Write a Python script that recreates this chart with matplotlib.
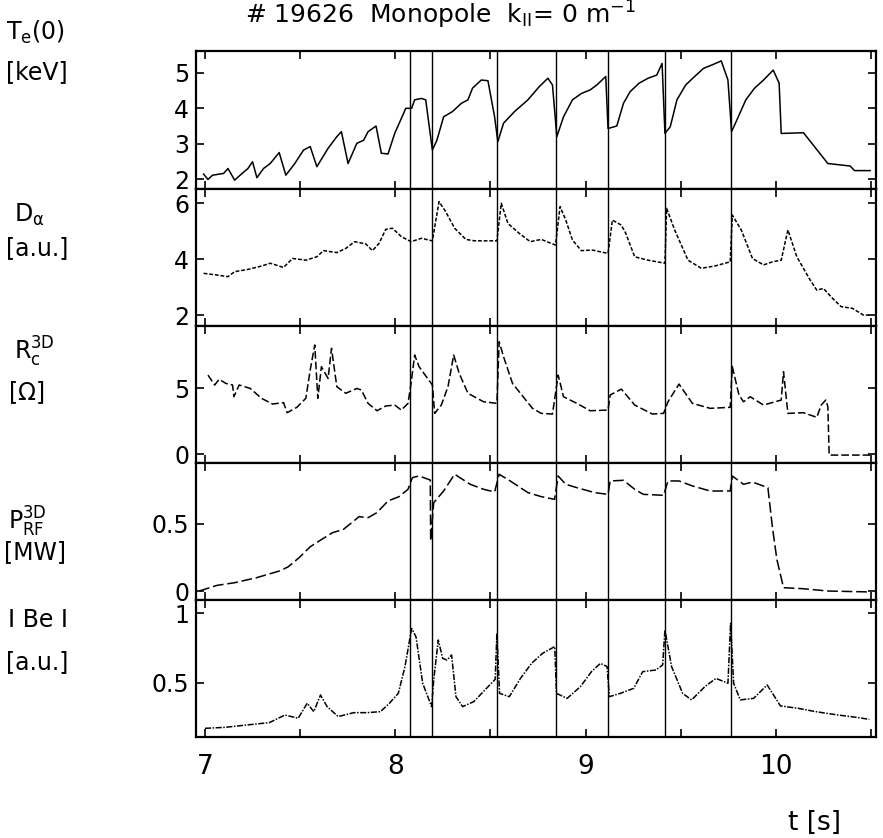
import numpy as np
import matplotlib.pyplot as plt

plt.rcParams['font.family'] = ['DejaVu Sans']
plt.rcParams['mathtext.default'] = 'regular'

# T_e(0) [keV]
t_te = [6.993, 7.016, 7.040, 7.098, 7.121, 7.156, 7.191, 7.226, 7.250, 7.273, 7.308, 7.343, 7.390, 7.425,
        7.472, 7.518, 7.553, 7.588, 7.647, 7.693, 7.717, 7.752, 7.798, 7.834, 7.857, 7.899, 7.927, 7.962,
        7.997, 8.044, 8.055, 8.086, 8.102, 8.137, 8.160, 8.195, 8.219, 8.254, 8.301, 8.347, 8.382, 8.406,
        8.452, 8.487, 8.522, 8.539, 8.569, 8.627, 8.697, 8.756, 8.802, 8.826, 8.849, 8.884, 8.931, 8.978,
        9.024, 9.059, 9.106, 9.118, 9.164, 9.199, 9.234, 9.281, 9.328, 9.374, 9.402, 9.417, 9.445, 9.480,
        9.526, 9.573, 9.620, 9.666, 9.713, 9.748, 9.767, 9.795, 9.842, 9.888, 9.935, 9.986, 10.017, 10.028,
        10.145, 10.273, 10.390, 10.413, 10.495]
te = [2.14, 1.99, 2.11, 2.16, 2.30, 1.97, 2.14, 2.30, 2.49, 2.04, 2.30, 2.44, 2.75, 2.11,
      2.44, 2.82, 2.92, 2.35, 2.87, 3.20, 3.34, 2.44, 3.01, 3.10, 3.34, 3.50, 2.73, 2.71,
      3.29, 3.86, 4.00, 4.00, 4.24, 4.28, 4.24, 2.82, 3.10, 3.76, 3.91, 4.14, 4.24, 4.57,
      4.80, 4.78, 3.76, 3.06, 3.58, 3.91, 4.24, 4.61, 4.85, 4.66, 3.20, 3.76, 4.24, 4.42,
      4.52, 4.66, 4.90, 3.43, 3.50, 4.14, 4.47, 4.71, 4.85, 4.94, 5.27, 3.29, 3.48, 4.24,
      4.66, 4.90, 5.13, 5.23, 5.34, 4.80, 3.34, 3.67, 4.24, 4.57, 4.80, 5.08, 4.71, 3.29,
      3.31, 2.44, 2.37, 2.24, 2.24]

# D_alpha [a.u.]
t_da = [6.993, 7.063, 7.121, 7.156, 7.226, 7.297, 7.343, 7.413, 7.460, 7.530, 7.588, 7.623, 7.693, 7.740,
        7.787, 7.845, 7.880, 7.915, 7.950, 7.985, 8.032, 8.083, 8.137, 8.195, 8.230, 8.265, 8.312, 8.371,
        8.417, 8.534, 8.557, 8.592, 8.651, 8.709, 8.767, 8.842, 8.866, 8.896, 8.931, 8.978, 9.036, 9.118,
        9.141, 9.188, 9.211, 9.258, 9.328, 9.417, 9.426, 9.468, 9.538, 9.608, 9.678, 9.760, 9.771, 9.818,
        9.877, 9.935, 9.982, 10.028, 10.063, 10.110, 10.180, 10.215, 10.250, 10.297, 10.343, 10.402,
        10.460, 10.495]
da = [3.49, 3.43, 3.37, 3.55, 3.63, 3.75, 3.85, 3.70, 4.02, 3.96, 4.08, 4.30, 4.23, 4.38,
      4.62, 4.54, 4.30, 4.56, 5.06, 5.10, 4.80, 4.62, 4.74, 4.65, 6.05, 5.69, 5.10, 4.70,
      4.65, 4.65, 5.99, 5.27, 4.92, 4.62, 4.70, 4.50, 5.87, 5.39, 4.68, 4.30, 4.32, 4.20,
      5.39, 5.21, 4.92, 4.08, 3.96, 3.85, 5.81, 5.04, 3.96, 3.67, 3.75, 3.90, 5.57, 5.04,
      4.02, 3.79, 3.90, 3.96, 5.04, 4.08, 3.25, 2.89, 2.95, 2.60, 2.30, 2.24,
      2.00, 2.00]

# R_c^3D [Ohm]
t_rc = [7.016, 7.051, 7.075, 7.110, 7.145, 7.152, 7.180, 7.238, 7.297, 7.355, 7.413, 7.432, 7.483, 7.530,
        7.553, 7.577, 7.593, 7.612, 7.647, 7.665, 7.693, 7.740, 7.798, 7.822, 7.857, 7.904, 7.950, 7.997,
        8.032, 8.067, 8.083, 8.102, 8.125, 8.195, 8.207, 8.242, 8.277, 8.307, 8.336, 8.382, 8.464, 8.534,
        8.546, 8.569, 8.616, 8.721, 8.767, 8.826, 8.856, 8.884, 8.954, 9.024, 9.118, 9.129, 9.188, 9.258,
        9.351, 9.410, 9.433, 9.491, 9.561, 9.655, 9.760, 9.771, 9.806, 9.830, 9.865, 9.935, 10.028,
        10.040, 10.063, 10.145, 10.215, 10.238, 10.262, 10.273, 10.280, 10.495]
rc = [5.98, 5.23, 5.66, 5.35, 5.23, 4.34, 5.23, 4.97, 4.22, 3.79, 3.89, 3.13, 3.54, 4.22,
      6.36, 8.26, 4.22, 6.62, 5.73, 8.01, 5.10, 4.60, 4.97, 4.85, 3.84, 3.28, 3.64, 3.71,
      3.33, 3.84, 5.35, 7.50, 6.62, 5.23, 3.08, 3.71, 5.10, 7.50, 6.11, 4.60, 3.96, 3.84,
      8.51, 7.37, 5.35, 3.46, 3.08, 3.03, 5.98, 4.34, 3.84, 3.28, 3.33, 4.47, 4.92, 3.71,
      3.03, 3.08, 3.96, 5.30, 3.84, 3.46, 3.54, 6.62, 4.47, 3.96, 4.34, 3.71, 4.09,
      6.24, 3.08, 3.13, 2.78, 3.71, 4.09, 3.59, -0.08, -0.08]

# P_RF^3D [MW]
t_rf = [6.970, 7.063, 7.156, 7.273, 7.390, 7.437, 7.495, 7.553, 7.600, 7.670, 7.728, 7.810, 7.857, 7.904,
        7.962, 8.020, 8.067, 8.090, 8.125, 8.184, 8.186, 8.202, 8.254, 8.312, 8.394, 8.464, 8.522, 8.546,
        8.604, 8.697, 8.767, 8.837, 8.856, 8.896, 8.954, 9.048, 9.118, 9.129, 9.199, 9.258, 9.304, 9.410,
        9.433, 9.491, 9.561, 9.655, 9.760, 9.771, 9.830, 9.877, 9.958, 9.981, 10.005, 10.040, 10.145,
        10.273, 10.495]
rf = [0.00, 0.042, 0.062, 0.10, 0.149, 0.18, 0.249, 0.33, 0.373, 0.435, 0.46, 0.555, 0.547, 0.585,
      0.672, 0.704, 0.759, 0.846, 0.858, 0.828, 0.373, 0.659, 0.746, 0.871, 0.796, 0.759, 0.739, 0.871,
      0.821, 0.734, 0.704, 0.684, 0.858, 0.796, 0.771, 0.734, 0.721, 0.821, 0.826, 0.759, 0.721, 0.714,
      0.821, 0.821, 0.784, 0.746, 0.746, 0.858, 0.796, 0.813, 0.771, 0.485, 0.236, 0.025, 0.017,
      0.0, -0.007]

# I Be I [a.u.]
t_be = [7.000, 7.105, 7.222, 7.339, 7.420, 7.490, 7.537, 7.572, 7.607, 7.642, 7.700, 7.782, 7.852, 7.922,
        7.969, 8.016, 8.051, 8.086, 8.109, 8.144, 8.191, 8.202, 8.226, 8.249, 8.272, 8.296, 8.319, 8.354,
        8.413, 8.471, 8.525, 8.534, 8.548, 8.599, 8.658, 8.716, 8.774, 8.838, 8.847, 8.903, 8.973, 9.031,
        9.078, 9.113, 9.125, 9.183, 9.253, 9.300, 9.370, 9.405, 9.417, 9.452, 9.510, 9.557, 9.627, 9.685,
        9.748, 9.762, 9.778, 9.813, 9.883, 9.954, 10.024, 10.117, 10.210, 10.327, 10.420, 10.491]
be = [0.176, 0.183, 0.200, 0.217, 0.271, 0.248, 0.355, 0.295, 0.414, 0.331, 0.260, 0.288, 0.288, 0.295,
      0.355, 0.426, 0.617, 0.890, 0.830, 0.498, 0.331, 0.521, 0.807, 0.676, 0.664, 0.700, 0.402, 0.331,
      0.367, 0.450, 0.526, 0.855, 0.426, 0.402, 0.533, 0.640, 0.712, 0.760, 0.426, 0.390, 0.474, 0.581,
      0.640, 0.617, 0.402, 0.426, 0.462, 0.581, 0.593, 0.629, 0.879, 0.617, 0.426, 0.379, 0.474, 0.533,
      0.498, 0.926, 0.498, 0.379, 0.390, 0.486, 0.336, 0.319, 0.295, 0.271, 0.255, 0.240]

# disruption / sawtooth markers
t_marks = [8.079, 8.193, 8.532, 8.847, 9.120, 9.419, 9.764]

series = [(t_te, te), (t_da, da), (t_rc, rc), (t_rf, rf), (t_be, be)]
styles = ['-', (0, (2.5, 1.2)), (0, (5, 2)), (0, (7, 2.5)), (0, (4, 1, 1, 1))]
ylims = [(1.72, 5.62), (1.61, 6.5), (-0.68, 9.7), (-0.067, 0.955), (0.114, 1.093)]
yticks = [[2, 3, 4, 5], [2, 4, 6], [0, 5], [0, 0.5], [0.5, 1]]
yticklabels = [['2', '3', '4', '5'], ['2', '4', '6'], ['0', '5'], ['0', '0.5'], ['0.5', '1']]

W, H = 883, 838
edges = [51, 189, 326, 463, 600, 737]

fig = plt.figure(figsize=(W / 100, H / 100), dpi=100)
axes = []
for i in range(5):
    top, bot = edges[i], edges[i + 1]
    ax = fig.add_axes([196 / W, 1 - bot / H, 680 / W, (bot - top) / H])
    x, y = series[i]
    ax.plot(x, y, color='black', lw=1.1, linestyle=styles[i])
    for tm in t_marks:
        ax.axvline(tm, color='black', lw=1.0)
    ax.set_xlim(6.953, 10.526)
    ax.set_ylim(*ylims[i])
    ax.set_yticks(yticks[i])
    ax.set_yticklabels(yticklabels[i])
    ax.set_xticks(np.arange(7, 10.6, 0.5))
    ax.tick_params(direction='in', length=6, width=1.2, top=True, right=True,
                   labelsize=17, pad=5)
    for s in ax.spines.values():
        s.set_linewidth(1.6)
    if i < 4:
        ax.tick_params(labelbottom=False)
    axes.append(ax)

axes[-1].set_xticks(np.arange(7, 10.6, 0.5))
axes[-1].set_xticklabels(['7', '', '8', '', '9', '', '10', ''])
axes[-1].tick_params(axis='x', labelsize=19, pad=12)

fig.text(440 / W, 1 - 15 / H, r'# 19626  Monopole  k$_{\rm II}$= 0 m$^{-1}$',
         ha='center', va='center', fontsize=18)

labels = [
    (6, 32, r'T$_{\rm e}$(0)'), (6, 72, '[keV]'),
    (14, 215, r'D$_\alpha$'), (6, 248, '[a.u.]'),
    (14, 352, r'R$_{\rm c}^{\rm 3D}$'), (8, 393, r'[$\Omega$]'),
    (8, 522, r'P$_{\rm RF}^{\rm 3D}$'), (4, 552, '[MW]'),
    (8, 620, 'I Be I'), (6, 662, '[a.u.]'),
]
for lx, ly, txt in labels:
    fig.text(lx / W, 1 - ly / H, txt, ha='left', va='center', fontsize=17)

fig.text(815 / W, 1 - 823 / H, 't [s]', ha='center', va='center', fontsize=19)

fig.savefig('out.png', dpi=100, facecolor='white')
